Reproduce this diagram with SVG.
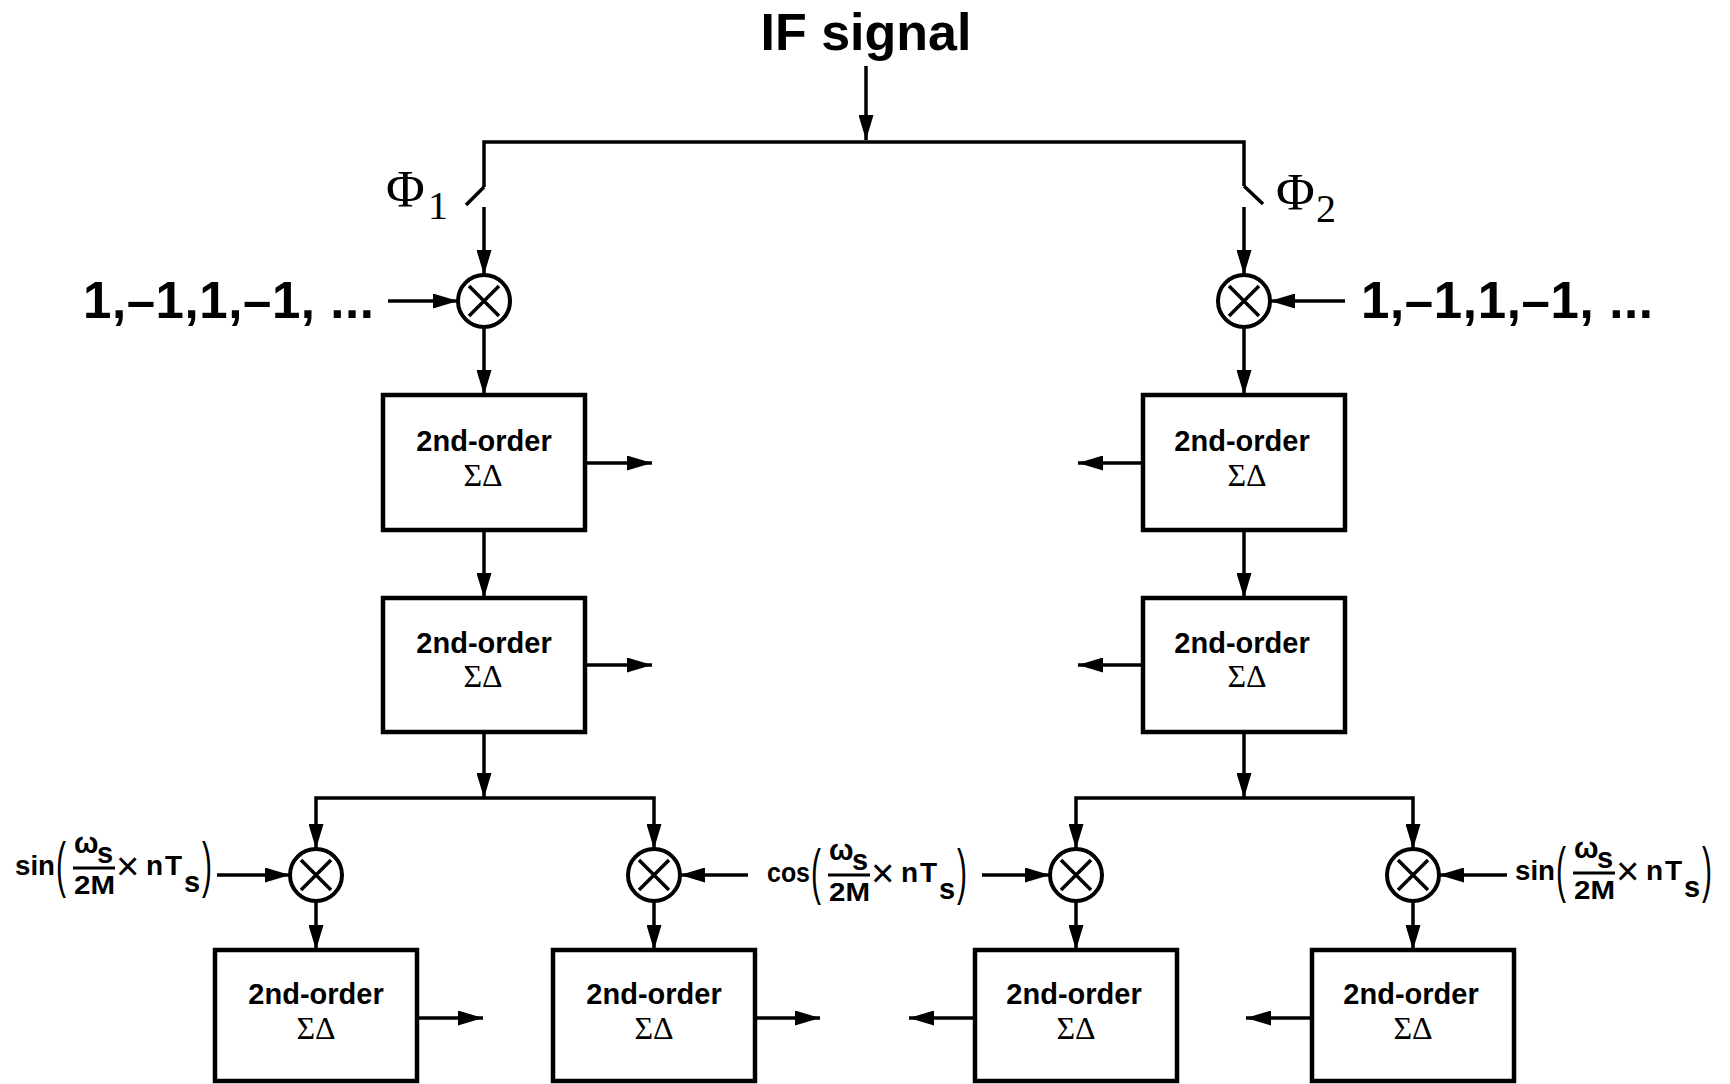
<svg xmlns="http://www.w3.org/2000/svg" xmlns:xlink="http://www.w3.org/1999/xlink" width="1730" height="1084" viewBox="0 0 1730 1084">
  <style>
    .wire { fill: none; stroke: #000; stroke-width: 3.5; stroke-linejoin: miter; }
    .arr { marker-end: url(#arrow); }
    .box { fill: #fff; stroke: #000; stroke-width: 4.5; }
    .mul { fill: #fff; stroke: #000; stroke-width: 4; }
    .sans { font-family: "Liberation Sans", Arial, sans-serif; font-weight: bold; fill: #000; }
    .serif { font-family: "Liberation Serif", "Times New Roman", serif; fill: #000; }
    .blk1 { font-size: 29px; text-anchor: middle; }
    .blk2 { font-size: 32px; text-anchor: middle; }
    .lab { font-size: 28px; }
    .paren { font-family: "Liberation Sans", Arial, sans-serif; font-size: 30px; fill: #000; }
    .times-sign { font-family: "Liberation Sans", Arial, sans-serif; font-size: 40px; fill: #000; }
  </style>
  <defs>
    <marker id="arrow" markerUnits="userSpaceOnUse" markerWidth="25" markerHeight="15" viewBox="0 0 25 15" refX="25" refY="7.5" orient="auto">
      <path d="M0,0 L25,7.5 L0,15 z" fill="#000"/>
    </marker>
    <!-- multiplier: circle with a cross -->
    <g id="mult-shape">
      <circle cx="0" cy="0" r="26" class="mul"/>
      <path d="M-15,-15 L15,15 M15,-15 L-15,15" class="wire"/>
    </g>
    <!-- argument (ws/2M x nTs) in parentheses, origin = left of "(" on the baseline -->
    <g id="phase-arg">
      <text class="paren" transform="translate(-2,10) scale(1,2.06)">(</text>
      <text class="sans" x="16" y="-22" font-size="29">ω</text>
      <text class="sans" x="39" y="-12" font-size="29">s</text>
      <line x1="15" y1="-7" x2="57" y2="-7" stroke="#000" stroke-width="3"/>
      <text class="sans" x="16" y="19" font-size="26" textLength="41" lengthAdjust="spacingAndGlyphs">2M</text>
      <text class="times-sign" x="58" y="5">×</text>
      <text class="sans lab" x="88" y="0">n</text>
      <text class="sans lab" x="107" y="0">T</text>
      <text class="sans" x="126" y="17" font-size="29">s</text>
      <text class="paren" transform="translate(144,10) scale(1,2.06)">)</text>
    </g>
  </defs>

  <rect width="1730" height="1084" fill="#fff"/>

  <!-- connectors -->
  <g id="connectors">
    <!-- IF input and split with switches -->
    <path d="M866,66 V140" class="wire arr"/>
    <path d="M484,187 V142 H1244 V186" class="wire"/>
    <path d="M484,187 L466,205" class="wire"/>
    <path d="M1244,186 L1263,204" class="wire"/>
    <path d="M484,207 V275" class="wire arr"/>
    <path d="M1244,207 V275" class="wire arr"/>
    <!-- alternating sequence inputs -->
    <path d="M388,301 H458" class="wire arr"/>
    <path d="M1345,301 H1270" class="wire arr"/>
    <!-- left chain -->
    <path d="M484,327 V395" class="wire arr"/>
    <path d="M484,530 V598" class="wire arr"/>
    <path d="M484,732 V798" class="wire arr"/>
    <path d="M585,463 H652" class="wire arr"/>
    <path d="M585,665 H652" class="wire arr"/>
    <!-- right chain -->
    <path d="M1244,327 V395" class="wire arr"/>
    <path d="M1244,530 V598" class="wire arr"/>
    <path d="M1244,732 V798" class="wire arr"/>
    <path d="M1143,463 H1078" class="wire arr"/>
    <path d="M1143,665 H1078" class="wire arr"/>
    <!-- branch to quadrature mixers -->
    <path d="M484,798 H316 V849" class="wire arr"/>
    <path d="M484,798 H654 V849" class="wire arr"/>
    <path d="M1244,798 H1076 V849" class="wire arr"/>
    <path d="M1244,798 H1413 V849" class="wire arr"/>
    <!-- local oscillator inputs -->
    <path d="M217,875 H290" class="wire arr"/>
    <path d="M748,875 H680" class="wire arr"/>
    <path d="M982,875 H1050" class="wire arr"/>
    <path d="M1507,875 H1439" class="wire arr"/>
    <!-- mixers to last stages -->
    <path d="M316,901 V950" class="wire arr"/>
    <path d="M654,901 V950" class="wire arr"/>
    <path d="M1076,901 V950" class="wire arr"/>
    <path d="M1413,901 V950" class="wire arr"/>
    <!-- last stage outputs -->
    <path d="M417,1018 H483" class="wire arr"/>
    <path d="M755,1018 H820" class="wire arr"/>
    <path d="M975,1018 H909" class="wire arr"/>
    <path d="M1312,1018 H1246" class="wire arr"/>
  </g>

  <!-- labels -->
  <g id="if-signal">
    <text class="sans" x="866" y="50" font-size="52" text-anchor="middle">IF signal</text>
  </g>
  <g id="phi1">
    <text class="serif" x="386" y="207" font-size="53">Φ</text>
    <text class="serif" x="428" y="219" font-size="40">1</text>
  </g>
  <g id="phi2">
    <text class="serif" x="1276" y="210" font-size="53">Φ</text>
    <text class="serif" x="1316" y="222" font-size="40">2</text>
  </g>
  <g id="seq-left">
    <text class="sans" x="83" y="318" font-size="51" textLength="291" lengthAdjust="spacing">1,–1,1,–1, ...</text>
  </g>
  <g id="seq-right">
    <text class="sans" x="1361" y="318" font-size="51" textLength="292" lengthAdjust="spacing">1,–1,1,–1, ...</text>
  </g>

  <!-- multipliers -->
  <g id="mult-l"><use xlink:href="#mult-shape" x="484" y="301"/></g>
  <g id="mult-r"><use xlink:href="#mult-shape" x="1244" y="301"/></g>
  <g id="mult-ll"><use xlink:href="#mult-shape" x="316" y="875"/></g>
  <g id="mult-lr"><use xlink:href="#mult-shape" x="654" y="875"/></g>
  <g id="mult-rl"><use xlink:href="#mult-shape" x="1076" y="875"/></g>
  <g id="mult-rr"><use xlink:href="#mult-shape" x="1413" y="875"/></g>

  <!-- sigma-delta stages -->
  <g id="sd-l1">
    <rect x="383" y="395" width="202" height="135" class="box"/>
    <text class="sans blk1" x="484" y="451">2nd-order</text>
    <text class="serif blk2" x="483" y="486">ΣΔ</text>
  </g>
  <g id="sd-l2">
    <rect x="383" y="598" width="202" height="134" class="box"/>
    <text class="sans blk1" x="484" y="653">2nd-order</text>
    <text class="serif blk2" x="483" y="687">ΣΔ</text>
  </g>
  <g id="sd-r1">
    <rect x="1143" y="395" width="202" height="135" class="box"/>
    <text class="sans blk1" x="1242" y="451">2nd-order</text>
    <text class="serif blk2" x="1247" y="486">ΣΔ</text>
  </g>
  <g id="sd-r2">
    <rect x="1143" y="598" width="202" height="134" class="box"/>
    <text class="sans blk1" x="1242" y="653">2nd-order</text>
    <text class="serif blk2" x="1247" y="687">ΣΔ</text>
  </g>
  <g id="sd-ll">
    <rect x="215" y="950" width="202" height="131" class="box"/>
    <text class="sans blk1" x="316" y="1004">2nd-order</text>
    <text class="serif blk2" x="316" y="1039">ΣΔ</text>
  </g>
  <g id="sd-lr">
    <rect x="553" y="950" width="202" height="131" class="box"/>
    <text class="sans blk1" x="654" y="1004">2nd-order</text>
    <text class="serif blk2" x="654" y="1039">ΣΔ</text>
  </g>
  <g id="sd-rl">
    <rect x="975" y="950" width="202" height="131" class="box"/>
    <text class="sans blk1" x="1074" y="1004">2nd-order</text>
    <text class="serif blk2" x="1076" y="1039">ΣΔ</text>
  </g>
  <g id="sd-rr">
    <rect x="1312" y="950" width="202" height="131" class="box"/>
    <text class="sans blk1" x="1411" y="1004">2nd-order</text>
    <text class="serif blk2" x="1413" y="1039">ΣΔ</text>
  </g>

  <!-- local oscillator labels -->
  <g id="lo-sin-left">
    <text class="sans lab" x="15" y="875" textLength="40" lengthAdjust="spacingAndGlyphs">sin</text>
    <use xlink:href="#phase-arg" x="58" y="875"/>
  </g>
  <g id="lo-cos">
    <text class="sans lab" x="767" y="882" textLength="43" lengthAdjust="spacingAndGlyphs">cos</text>
    <use xlink:href="#phase-arg" x="813" y="882"/>
  </g>
  <g id="lo-sin-right">
    <text class="sans lab" x="1515" y="880" textLength="40" lengthAdjust="spacingAndGlyphs">sin</text>
    <use xlink:href="#phase-arg" x="1558" y="880"/>
  </g>
</svg>
